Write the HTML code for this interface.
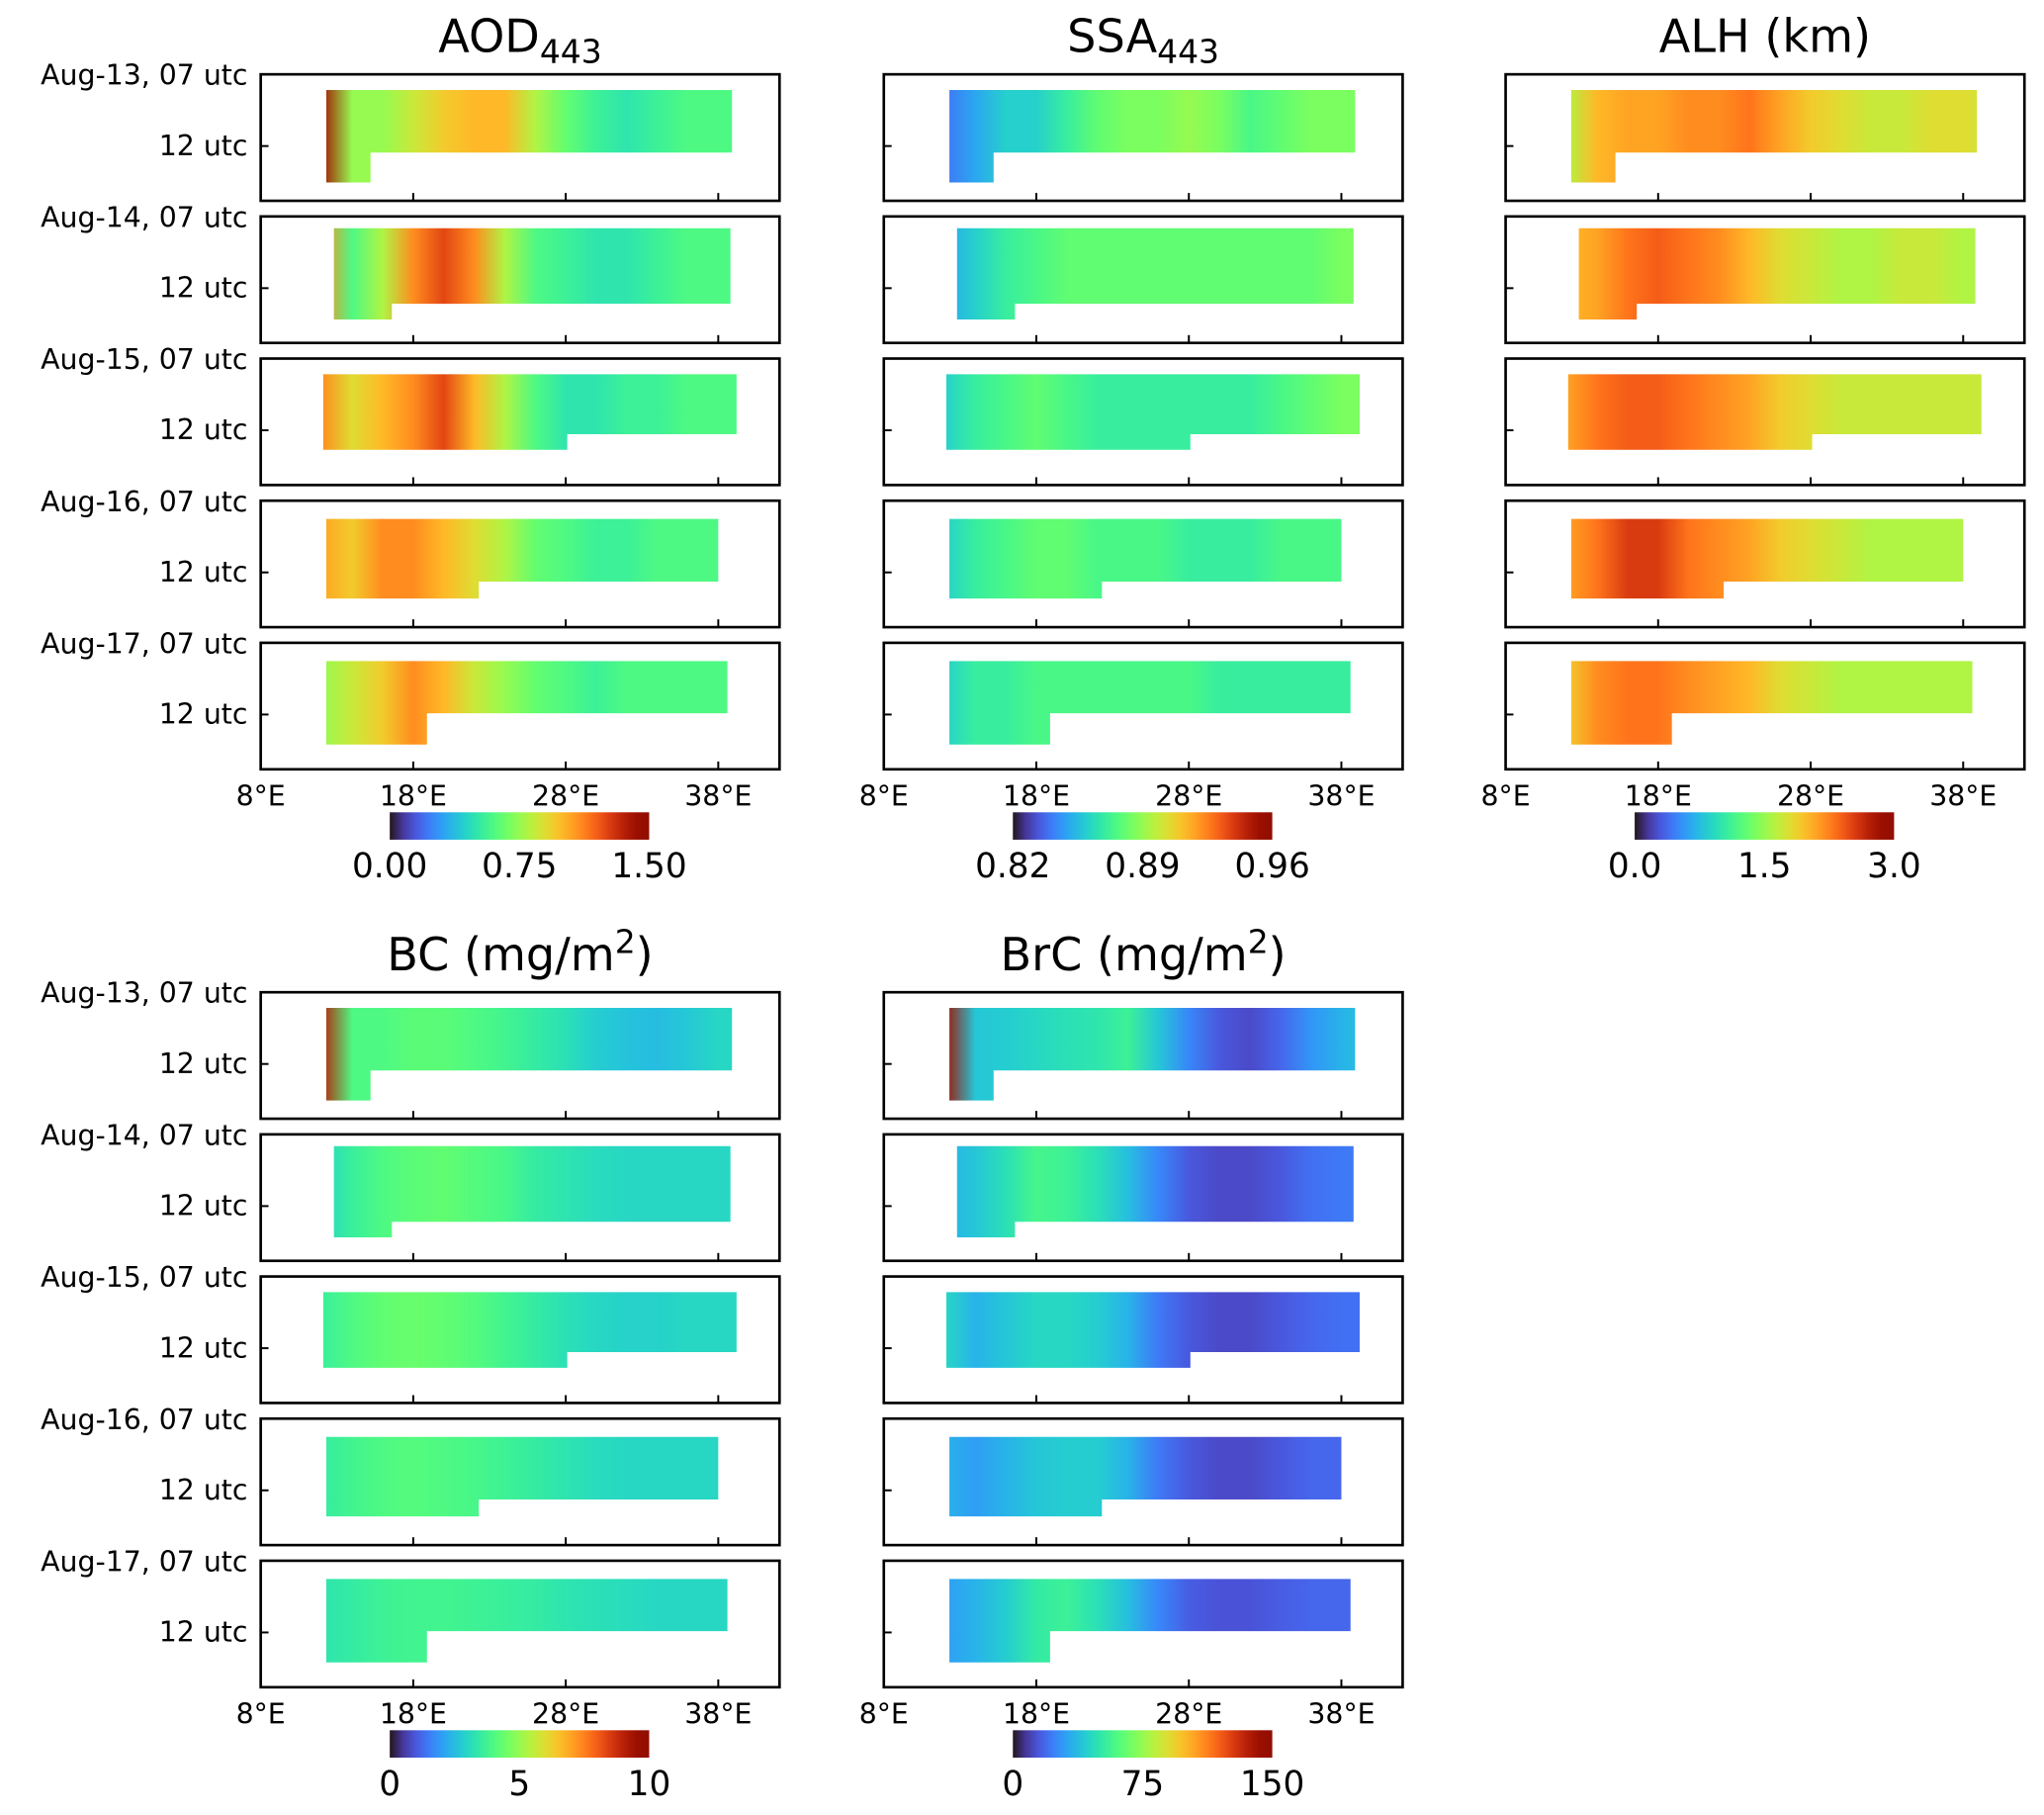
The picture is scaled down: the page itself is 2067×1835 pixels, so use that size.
<!DOCTYPE html>
<html><head><meta charset="utf-8"><style>
html,body{margin:0;padding:0;background:#fff;}
svg{display:block;font-family:"DejaVu Sans","Liberation Sans",sans-serif;}
</style></head><body>
<svg id="fig" width="2067" height="1835" viewBox="0 0 1568 1392" xmlns="http://www.w3.org/2000/svg"></svg>
<script>
// ---- data ----
const lonGrid = [12,14,16,18,20,22,24,26,28,30,32,34,36,38,40];
const days = ["Aug-13","Aug-14","Aug-15","Aug-16","Aug-17"];
const xTickLabels = ["8°E","18°E","28°E","38°E"];
const xTickLons = [8,18,28,38];
const swathStart = [12.3,12.8,12.1,12.3,12.3];
const swathEnd = [38.9,38.8,39.2,38.0,38.6];
const swathLowerEnd = [15.2,16.6,28.1,22.3,18.9];
const aod = [
 [1.4,0.75,0.75,0.85,0.95,1.0,1.0,0.8,0.65,0.55,0.5,0.55,0.6,0.6,0.6],
 [1.1,0.6,0.8,1.1,1.25,1.1,0.8,0.6,0.55,0.5,0.5,0.55,0.6,0.6,0.6],
 [1.1,0.9,1.0,1.1,1.25,1.0,0.8,0.6,0.5,0.5,0.55,0.55,0.6,0.6,0.6],
 [1.05,0.95,1.1,1.1,1.0,0.9,0.8,0.65,0.6,0.55,0.55,0.6,0.6,0.6,0.6],
 [0.75,0.85,0.95,1.1,1.0,0.85,0.75,0.65,0.6,0.55,0.6,0.6,0.6,0.6,0.6]];
const ssa = [
 [0.84,0.85,0.86,0.86,0.87,0.88,0.885,0.885,0.89,0.885,0.875,0.88,0.885,0.885,0.885],
 [0.85,0.86,0.87,0.875,0.88,0.88,0.88,0.88,0.88,0.88,0.88,0.88,0.88,0.885,0.885],
 [0.86,0.87,0.875,0.88,0.875,0.87,0.87,0.87,0.87,0.87,0.87,0.875,0.88,0.885,0.885],
 [0.86,0.87,0.875,0.88,0.88,0.875,0.875,0.875,0.87,0.87,0.87,0.875,0.875,0.875,0.875],
 [0.86,0.87,0.87,0.875,0.875,0.875,0.875,0.875,0.875,0.87,0.87,0.87,0.87,0.87,0.87]];
const alh = [
 [1.6,2.0,2.1,2.1,2.2,2.2,2.3,2.1,1.9,1.8,1.7,1.7,1.8,1.8,1.7],
 [2.0,2.1,2.3,2.4,2.3,2.2,2.0,1.8,1.7,1.6,1.6,1.7,1.7,1.6,1.6],
 [2.1,2.3,2.4,2.4,2.3,2.2,2.1,1.9,1.8,1.7,1.7,1.7,1.7,1.7,1.7],
 [2.1,2.3,2.55,2.55,2.3,2.2,2.1,1.9,1.8,1.7,1.6,1.6,1.6,1.6,1.6],
 [1.9,2.2,2.3,2.3,2.2,2.1,2.0,1.8,1.7,1.6,1.6,1.6,1.6,1.6,1.6]];
const bc = [
 [9,4.0,4.0,4.2,4.2,4.0,3.8,3.5,3.2,2.8,2.6,2.5,2.7,3.0,3.0],
 [3.0,3.6,4.0,4.2,4.3,4.1,3.9,3.5,3.3,3.1,3.0,3.0,3.0,3.0,3.0],
 [3.6,4.0,4.3,4.4,4.3,4.1,3.8,3.5,3.2,3.0,2.9,2.9,3.0,3.0,3.0],
 [3.5,3.8,4.0,4.1,4.0,3.9,3.7,3.5,3.3,3.1,3.0,3.0,3.0,3.0,3.0],
 [3.3,3.5,3.7,3.8,3.8,3.7,3.6,3.5,3.3,3.2,3.1,3.0,3.0,3.0,3.0]];
const brc = [
 [140,40,42,45,48,50,55,40,25,15,12,18,28,35,40],
 [35,40,48,58,55,48,38,25,15,12,12,15,20,22,22],
 [45,35,40,45,45,42,35,22,15,12,12,15,18,20,20],
 [35,30,35,40,42,42,35,22,15,12,12,15,18,18,18],
 [30,35,42,52,55,48,38,25,16,14,14,16,18,18,18]];
const cbarLabels = [["0.00","0.75","1.50"],["0.82","0.89","0.96"],["0.0","1.5","3.0"],["0","5","10"],["0","75","150"]];
const ranges = [[0,1.5],[0.82,0.96],[0,3],[0,10],[0,150]];
// ---- layout ----
const NS="http://www.w3.org/2000/svg";
const svg=document.getElementById('fig');
const defs=document.createElementNS(NS,'defs');svg.appendChild(defs);
function turbo(t){t=Math.max(0,Math.min(1,t));
 const r=0.13572138+t*(4.61539260+t*(-42.66032258+t*(132.13108234+t*(-152.94239396+t*59.28637943))));
 const g=0.09140261+t*(2.19418839+t*(4.84296658+t*(-14.18503333+t*(4.27729857+t*2.82956604))));
 const b=0.10667330+t*(12.64194608+t*(-60.58204836+t*(110.36276771+t*(-89.90310912+t*27.34824973))));
 const c=v=>Math.round(255*Math.max(0,Math.min(1,v)));return `rgb(${c(r)},${c(g)},${c(b)})`;}
function el(tag,attrs,parent){const e=document.createElementNS(NS,tag);for(const k in attrs)e.setAttribute(k,attrs[k]);(parent||svg).appendChild(e);return e;}
const PW=398,PH=97,DEG=11.7;
const panels=[
 {x:200,y:57,data:aod,r:ranges[0],lab:cbarLabels[0],title:['AOD','443','sub'],name:'aod'},
 {x:678,y:57,data:ssa,r:ranges[1],lab:cbarLabels[1],title:['SSA','443','sub'],name:'ssa'},
 {x:1155,y:57,data:alh,r:ranges[2],lab:cbarLabels[2],title:['ALH (km)','',''],name:'alh'},
 {x:200,y:761,data:bc,r:ranges[3],lab:cbarLabels[3],title:['BC (mg/m','2','sup',')'],name:'bc'},
 {x:678,y:761,data:brc,r:ranges[4],lab:cbarLabels[4],title:['BrC (mg/m','2','sup',')'],name:'brc'}];
const top_=[12,9,12,14,14], mid_=[60,67,58,62,54], bot_=[83,79,70,75,78];
let gid=0;
panels.forEach((P,pi)=>{
 const X=lon=>P.x+(lon-8)*DEG;
 const t=el('text',{x:P.x+PW/2,y:P.y-17,'text-anchor':'middle','font-size':35});
 
 t.appendChild(document.createTextNode(P.title[0]));
 if(P.title[1]){const sub=P.title[2]==='sub';const ts=el('tspan',{'font-size':25,dy:sub?8:-13},t);ts.textContent=P.title[1];
  if(P.title[3]){const ts2=el('tspan',{'font-size':35,dy:sub?-8:13},t);ts2.textContent=P.title[3];}}
 for(let d=0;d<5;d++){
  const py=P.y+d*109;
  const g=el('g',{});
  const id='gr'+(gid++);
  const lg=el('linearGradient',{id:id,gradientUnits:'userSpaceOnUse',x1:X(lonGrid[0]),x2:X(lonGrid[lonGrid.length-1]),y1:0,y2:0},defs);
  P.data[d].forEach((v,i)=>{el('stop',{offset:(i/(lonGrid.length-1)).toFixed(4),'stop-color':turbo((v-P.r[0])/(P.r[1]-P.r[0]))},lg);});
  const xs=X(swathStart[d]),xe=X(swathEnd[d]),xl=X(swathLowerEnd[d]);
  const pts=[[xs,py+top_[d]],[xe,py+top_[d]],[xe,py+mid_[d]],[xl,py+mid_[d]],[xl,py+bot_[d]],[xs,py+bot_[d]]];
  const sw=el('polygon',{points:pts.map(p=>p.join(',')).join(' '),fill:`url(#${id})`},g);
  
  const fr=el('rect',{x:P.x,y:py,width:PW,height:PH,fill:'none',stroke:'#000','stroke-width':2},g);
  
  xTickLons.slice(1).forEach(l=>el('line',{x1:X(l),x2:X(l),y1:py+PH,y2:py+PH-6,stroke:'#000','stroke-width':1.5},g));
  el('line',{x1:P.x,x2:P.x+6,y1:py+55,y2:py+55,stroke:'#000','stroke-width':1.5},g);
  if(P.x===200){
   const a=el('text',{x:190,y:py+8,'text-anchor':'end','font-size':21.5});a.textContent=days[d]+', 07 utc';
   
   const b=el('text',{x:190,y:py+62,'text-anchor':'end','font-size':21.5});b.textContent='12 utc';
   
  }
 }
 const by=P.y+4*109+PH;
 xTickLabels.forEach((s,i)=>{const tx=el('text',{x:X(xTickLons[i]),y:by+28,'text-anchor':'middle','font-size':21.5});tx.textContent=s;
  });
 const cid='cb'+pi;
 const cg=el('linearGradient',{id:cid,x1:0,x2:1,y1:0,y2:0},defs);
 for(let i=0;i<=20;i++)el('stop',{offset:i/20,'stop-color':turbo(i/20)},cg);
 const cx=P.x+99,cw=199,cy=by+33;
 const cb=el('rect',{x:cx,y:cy,width:cw,height:21,fill:`url(#${cid})`});
 
 P.lab.forEach((s,i)=>{const tx=el('text',{x:cx+i*cw/2,y:cy+50,'text-anchor':'middle','font-size':26});tx.textContent=s;
  });
});
</script>
</body></html>
